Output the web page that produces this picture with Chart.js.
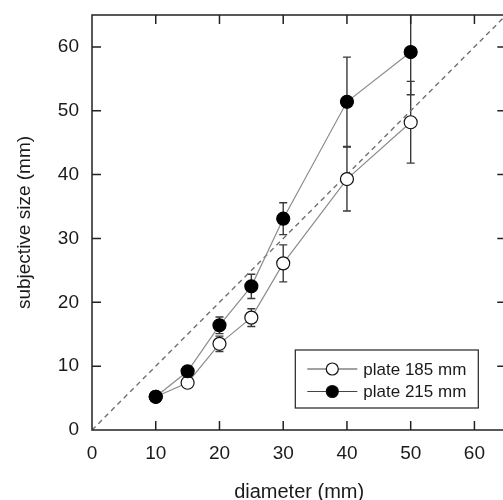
<!DOCTYPE html>
<html>
<head>
<meta charset="utf-8">
<script src="https://cdn.jsdelivr.net/npm/chart.js@4.4.1/dist/chart.umd.min.js"></script>
<style>
  html, body { margin: 0; padding: 0; overflow: hidden; background: #fff; }
  #wrap { width: 514px; height: 500px; }
</style>
</head>
<body>
<div id="wrap"><canvas id="chart" width="514" height="500"></canvas></div>
<script>
// Disc diameter (mm) and mean judged size (mm) with error half-widths
const diameters   = [10, 15, 20, 25, 30, 40, 50];
const plate185    = [5.2, 7.4, 13.5, 17.6, 26.1, 39.3, 48.2];
const plate185Err = [0.5, 0.6, 1.2, 1.4, 2.9, 5.0, 6.4];
const plate215    = [5.2, 9.2, 16.4, 22.5, 33.1, 51.4, 59.2];
const plate215Err = [0.5, 0.7, 1.3, 1.9, 2.5, 7.0, 6.7];
const identityLine = [0, 65];            // veridical line y = x
const xTicks = [0, 10, 20, 30, 40, 50, 60];
const yTicks = [0, 10, 20, 30, 40, 50, 60];
const seriesNames = ['plate 185 mm', 'plate 215 mm'];
const axisTitles = { x: 'diameter (mm)', y: 'subjective size (mm)' };

const FONT = "'Liberation Sans', Arial, Helvetica, sans-serif";
const INK = '#1a1a1a';

const toPoints = (xs, ys) => xs.map((x, i) => ({ x, y: ys[i] }));

// Vertical error bars with short caps, drawn beneath the markers
const errorBars = {
  id: 'errorBars',
  beforeDatasetsDraw(chart) {
    const { ctx, chartArea: a, scales: { x, y } } = chart;
    ctx.save();
    ctx.beginPath();
    ctx.rect(a.left, a.top, a.right - a.left, a.bottom - a.top);
    ctx.clip();
    ctx.strokeStyle = '#3a3a3a';
    ctx.lineWidth = 1.4;
    chart.data.datasets.forEach(ds => {
      if (!ds.errors) return;
      ds.data.forEach((p, i) => {
        const e = ds.errors[i];
        const px = x.getPixelForValue(p.x);
        const hi = y.getPixelForValue(p.y + e);
        const lo = y.getPixelForValue(p.y - e);
        ctx.beginPath();
        ctx.moveTo(px, hi); ctx.lineTo(px, lo);
        ctx.moveTo(px - 4, hi); ctx.lineTo(px + 4, hi);
        ctx.moveTo(px - 4, lo); ctx.lineTo(px + 4, lo);
        ctx.stroke();
      });
    });
    ctx.restore();
  }
};

// Closed frame with inward tick marks on all four sides
const frame = {
  id: 'frame',
  afterDatasetsDraw(chart) {
    const { ctx, chartArea: a, scales: { x, y } } = chart;
    const len = 9;
    ctx.save();
    ctx.strokeStyle = '#222';
    ctx.lineWidth = 1.5;
    ctx.strokeRect(a.left, a.top, a.right - a.left, a.bottom - a.top);
    ctx.beginPath();
    xTicks.forEach(v => {
      if (v === x.min) return;
      const px = x.getPixelForValue(v);
      ctx.moveTo(px, a.bottom); ctx.lineTo(px, a.bottom - len);
      ctx.moveTo(px, a.top); ctx.lineTo(px, a.top + len);
    });
    yTicks.forEach(v => {
      if (v === y.min) return;
      const py = y.getPixelForValue(v);
      ctx.moveTo(a.left, py); ctx.lineTo(a.left + len, py);
      ctx.moveTo(a.right, py); ctx.lineTo(a.right - len, py);
    });
    ctx.stroke();
    ctx.restore();
  }
};

// Boxed key in the lower right: line with marker, then series name
const keyBox = {
  id: 'keyBox',
  afterDraw(chart) {
    const { ctx, chartArea: a } = chart;
    const w = 183, h = 58;
    const x0 = a.right - 28 - w, y0 = a.bottom - 22 - h;
    ctx.save();
    ctx.fillStyle = '#fff';
    ctx.fillRect(x0, y0, w, h);
    ctx.strokeStyle = '#222';
    ctx.lineWidth = 1.2;
    ctx.strokeRect(x0, y0, w, h);
    const fills = ['#fff', '#000'];
    seriesNames.forEach((name, i) => {
      const cy = y0 + 19 + i * 22.5;
      ctx.strokeStyle = '#444';
      ctx.lineWidth = 1.2;
      ctx.beginPath();
      ctx.moveTo(x0 + 12, cy); ctx.lineTo(x0 + 62, cy);
      ctx.stroke();
      ctx.beginPath();
      ctx.arc(x0 + 37, cy, 6, 0, Math.PI * 2);
      ctx.fillStyle = fills[i];
      ctx.fill();
      ctx.strokeStyle = '#111';
      ctx.stroke();
      ctx.fillStyle = INK;
      ctx.font = '17px ' + FONT;
      ctx.textBaseline = 'middle';
      ctx.textAlign = 'left';
      ctx.fillText(name, x0 + 68, cy + 1);
    });
    ctx.restore();
  }
};

new Chart(document.getElementById('chart'), {
  type: 'scatter',
  data: {
    datasets: [
      {
        label: seriesNames[0],
        data: toPoints(diameters, plate185),
        errors: plate185Err,
        showLine: true,
        order: 1,
        borderColor: '#8c8c8c',
        borderWidth: 1.2,
        pointRadius: 6.5,
        pointHoverRadius: 6.5,
        pointBackgroundColor: '#fff',
        pointBorderColor: '#111',
        pointBorderWidth: 1.2
      },
      {
        label: seriesNames[1],
        data: toPoints(diameters, plate215),
        errors: plate215Err,
        showLine: true,
        order: 0,
        borderColor: '#8c8c8c',
        borderWidth: 1.2,
        pointRadius: 6.5,
        pointHoverRadius: 6.5,
        pointBackgroundColor: '#000',
        pointBorderColor: '#000',
        pointBorderWidth: 1.2
      },
      {
        label: 'y = x',
        data: toPoints(identityLine, identityLine),
        showLine: true,
        order: 2,
        borderColor: '#707070',
        borderWidth: 1.4,
        borderDash: [5, 4],
        pointRadius: 0
      }
    ]
  },
  options: {
    responsive: false,
    animation: false,
    events: [],
    layout: { padding: { top: 15, right: 0, left: 0, bottom: 0 } },
    plugins: { legend: { display: false }, tooltip: { enabled: false } },
    scales: {
      x: {
        type: 'linear',
        min: 0, max: 65,
        grid: { display: false },
        border: { display: false },
        afterBuildTicks: s => { s.ticks = xTicks.map(v => ({ value: v })); },
        afterFit: s => { s.height = 70; s.paddingLeft = 0; s.paddingRight = 0; },
        ticks: { font: { size: 19, family: FONT }, color: INK, padding: 4, maxRotation: 0, autoSkip: false },
        title: {
          display: true, text: axisTitles.x, color: INK,
          font: { size: 20, family: FONT }, padding: { top: 0, bottom: -4 }
        }
      },
      y: {
        type: 'linear',
        min: 0, max: 65,
        grid: { display: false },
        border: { display: false },
        afterBuildTicks: s => { s.ticks = yTicks.map(v => ({ value: v })); },
        afterFit: s => { s.width = 92; s.paddingTop = 0; s.paddingBottom = 0; },
        ticks: { font: { size: 19, family: FONT }, color: INK, padding: 5, autoSkip: false },
        title: {
          display: true, text: axisTitles.y, color: INK,
          font: { size: 19, family: FONT }, padding: { top: 13, bottom: 0 }
        }
      }
    }
  },
  plugins: [errorBars, frame, keyBox]
});
</script>
</body>
</html>
